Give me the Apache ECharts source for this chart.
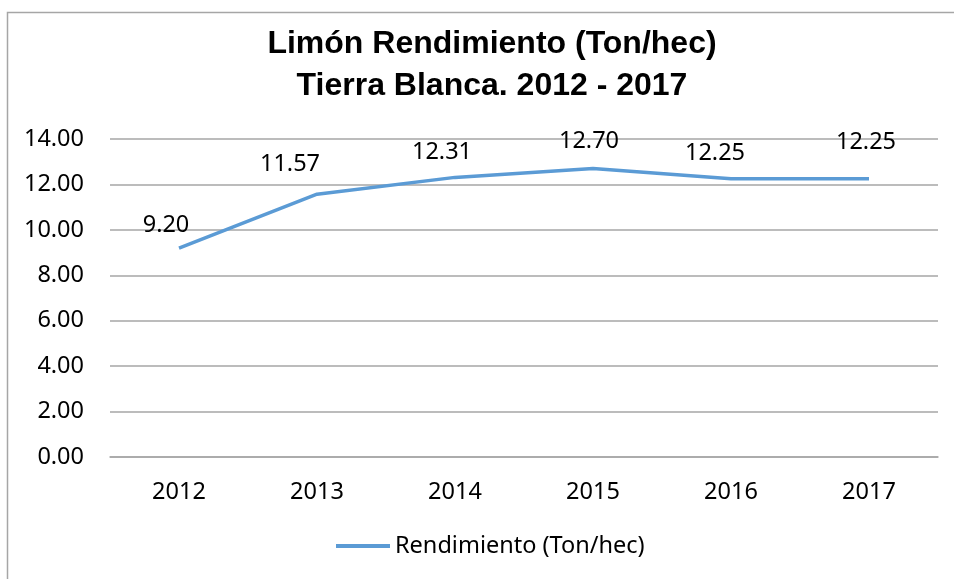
<!DOCTYPE html>
<html>
<head>
<meta charset="utf-8">
<script src="https://cdn.jsdelivr.net/npm/echarts@6/dist/echarts.min.js"></script>
<style>
html, body { margin: 0; padding: 0; background: #fff; }
#chart { width: 954px; height: 579px; }
</style>
</head>
<body>
<div id="chart"></div>
<script>
// datos
var years = ['2012', '2013', '2014', '2015', '2016', '2017'];
var rendimiento = [9.20, 11.57, 12.31, 12.70, 12.25, 12.25];
var yTicks = [0, 2, 4, 6, 8, 10, 12, 14];

// desplazamiento de etiquetas (como estan en el original)
var labelOffsets = [[-13, 3.5], [-27, -4], [-13, 1], [-4, -1], [-16, 0.5], [-3, -10]];

var chart = echarts.init(document.getElementById('chart'));

var option = {
    backgroundColor: '#fff',
    title: {
        text: 'Limón Rendimiento (Ton/hec)\nTierra Blanca. 2012 - 2017',
        left: 487,
        textAlign: 'center',
        top: 18,
        textStyle: {
            fontFamily: 'Liberation Sans',
            fontWeight: 'bold',
            fontSize: 32,
            lineHeight: 42,
            color: '#000'
        }
    },
    graphic: [{
        type: 'rect',
        shape: { x: 7.5, y: 12.5, width: 960, height: 600 },
        style: { fill: 'none', stroke: '#a6a6a6', lineWidth: 1.5 },
        silent: true
    }],
    legend: {
        bottom: 16,
        left: 331,
        itemWidth: 54,
        itemHeight: 4,
        itemGap: 4,
        icon: 'rect',
        textStyle: { fontFamily: 'Noto Sans', fontSize: 23.5, color: '#000' },
        data: [{ name: 'Rendimiento (Ton/hec)', itemStyle: { color: '#5b9bd5', opacity: 1 } }]
    },
    grid: {
        left: 110,
        right: 16,
        top: 139,
        bottom: 122
    },
    xAxis: {
        type: 'category',
        data: years,
        axisLine: { lineStyle: { color: '#a6a6a6', width: 1.5 } },
        axisTick: { show: false },
        axisLabel: {
            margin: 23,
            fontFamily: 'Noto Sans',
            fontSize: 23.5,
            color: '#000'
        }
    },
    yAxis: {
        type: 'value',
        min: yTicks[0],
        max: yTicks[yTicks.length - 1],
        interval: 2,
        axisLine: { show: false },
        axisTick: { show: false },
        splitLine: { lineStyle: { color: '#a6a6a6', width: 1.5 } },
        axisLabel: {
            margin: 26,
            fontFamily: 'Noto Sans',
            fontSize: 23.5,
            color: '#000',
            formatter: function (v) { return v.toFixed(2); }
        }
    },
    series: [{
        name: 'Rendimiento (Ton/hec)',
        type: 'line',
        data: rendimiento.map(function (v, i) {
            return { value: v, label: { offset: labelOffsets[i] } };
        }),
        symbol: 'circle',
        symbolSize: 0,
        showSymbol: true,
        lineStyle: { color: '#5b9bd5', width: 3.5 },
        itemStyle: { color: '#5b9bd5' },
        label: {
            show: true,
            position: 'top',
            distance: 14,
            opacity: 1,
            fontFamily: 'Noto Sans',
            fontSize: 23.5,
            color: '#000',
            formatter: function (p) { return p.value.toFixed(2); }
        },
        animation: false
    }],
    animation: false
};

chart.setOption(option);
</script>
</body>
</html>
